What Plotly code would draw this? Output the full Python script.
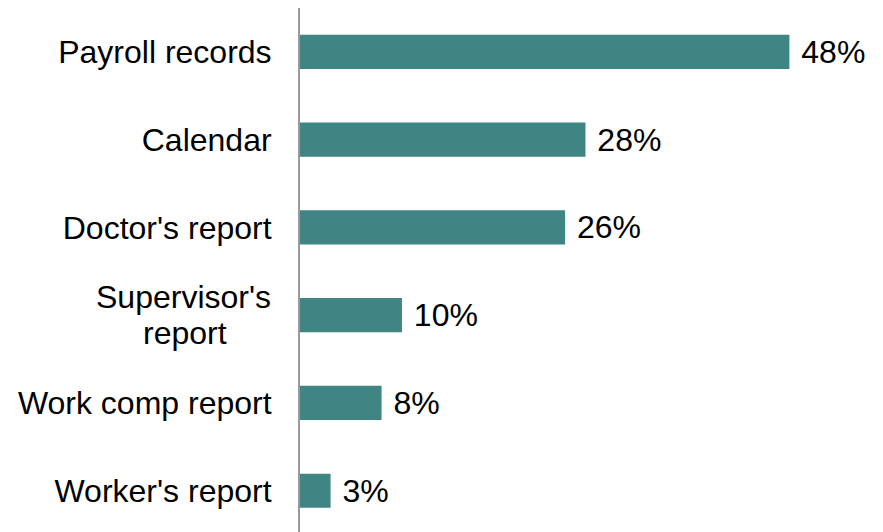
import plotly.graph_objects as go

categories = ["Payroll records", "Calendar", "Doctor's report", "Supervisor's report",
              "Work comp report", "Worker's report"]
tick_text = ["Payroll records", "Calendar", "Doctor's report", "",
             "Work comp report", "Worker's report"]
wrapped_label = ["Supervisor's", "report"]
values = [48, 28, 26, 10, 8, 3]
labels = [f" {v}%" for v in values]

FONT = "Liberation Sans, Arial, sans-serif"
FS = 32

fig = go.Figure(go.Bar(
    y=categories,
    x=values,
    orientation="h",
    marker=dict(color="#3E8584", line=dict(width=0)),
    width=0.39,
    text=labels,
    textposition="outside",
    constraintext="none",
    cliponaxis=False,
    textfont=dict(family=FONT, size=FS, color="#000000"),
    hoverinfo="skip",
))

# two-line category label, centre-aligned lines with tighter spacing
line_anchor = ["right", "center"]
line_xshift = [-27, -115]
for i, line in enumerate(wrapped_label):
    fig.add_annotation(
        x=0, xref="paper", xanchor=line_anchor[i], xshift=line_xshift[i],
        y="Supervisor's report", yref="y", yanchor="middle",
        yshift=18 - 36 * i,
        text=line, showarrow=False,
        font=dict(family=FONT, size=FS, color="#000000"),
    )

fig.update_layout(
    width=883, height=532,
    margin=dict(l=292, r=18, t=0, b=8),
    paper_bgcolor="white",
    plot_bgcolor="white",
    showlegend=False,
    font=dict(family=FONT, size=FS, color="#000000"),
)
fig.update_xaxes(range=[0, 56.2], visible=False, showgrid=False, zeroline=False,
                 automargin=False)
fig.update_yaxes(
    range=[5.47, -0.5],
    tickmode="array", tickvals=categories, ticktext=tick_text,
    showline=True, linecolor="#999999", linewidth=2,
    showgrid=False, zeroline=False, automargin=False,
    ticks="", ticklabelstandoff=20,
    tickfont=dict(family=FONT, size=FS, color="#000000"),
)

fig.write_html("out.html")
